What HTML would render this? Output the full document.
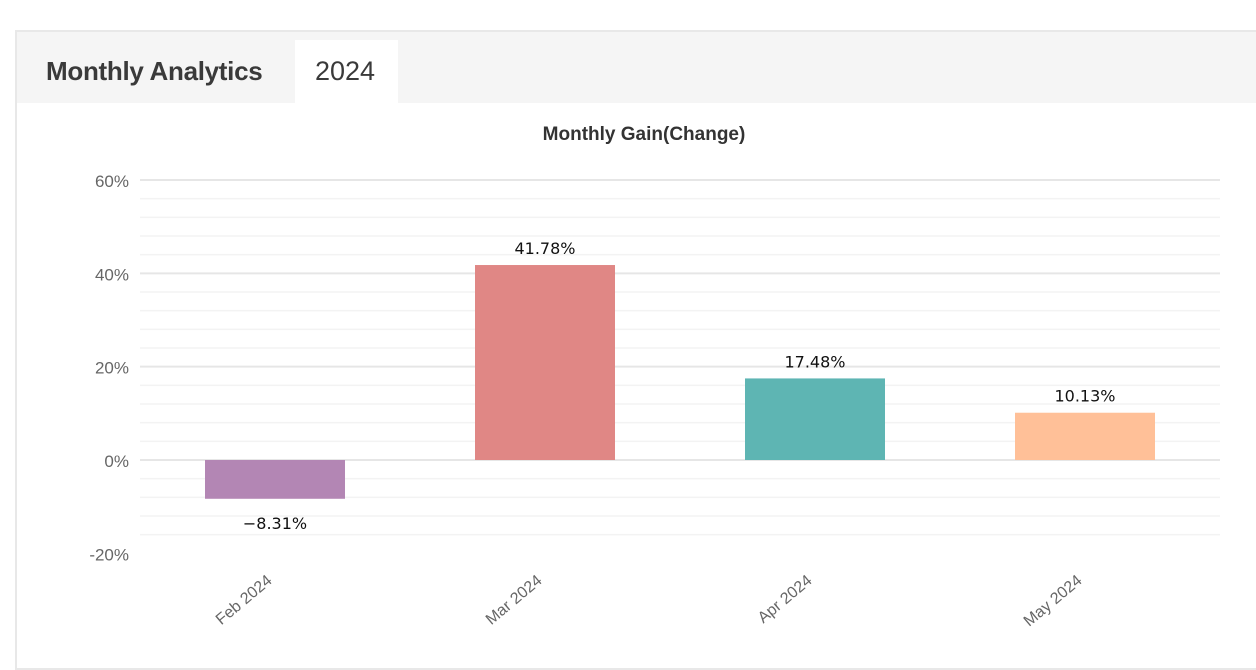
<!DOCTYPE html>
<html><head><meta charset="utf-8"><style>
body{margin:0;width:1256px;height:658px;background:#fff;font-family:"Liberation Sans",Arial,sans-serif;overflow:hidden;position:relative}
.panel{position:absolute;left:15px;top:30px;width:1250px;height:640px;border:2px solid #e8e8e8;box-sizing:border-box}
.hdr{position:absolute;left:17px;top:32px;width:1239px;height:71px;background:#f5f5f5}
.t1{position:absolute;left:46px;top:56px;font-size:26px;color:#3a3a3a;font-weight:bold;letter-spacing:-0.3px}
.tab{position:absolute;left:295px;top:40px;width:103px;height:63px;background:#fff}
.tab span{position:absolute;left:20px;top:16px;font-size:27px;color:#3a3a3a}
</style></head><body>
<div class="panel"></div>
<div class="hdr"></div>
<div class="t1">Monthly Analytics</div>
<div class="tab"><span>2024</span></div>
<svg id="chart" width="1256" height="658" style="position:absolute;left:0;top:0"></svg>
<script>
const categories=["Feb 2024","Mar 2024","Apr 2024","May 2024"];
const gains=[-8.31,41.78,17.48,10.13];
const labels=["-8.31%","41.78%","17.48%","10.13%"];
const colors=["#b386b4","#e08785","#5eb5b3","#ffc098"];
const yTicks=[60,40,20,0,-20];
const svg=document.getElementById('chart');
const NS='http://www.w3.org/2000/svg';
const x0=140,x1=1220,y=v=>460-(v*280/60);
const band=(x1-x0)/categories.length;
function mk(t,a){const e=document.createElementNS(NS,t);for(const k in a)e.setAttribute(k,a[k]);svg.appendChild(e);return e;}
const title=mk('text',{x:644,y:140,'text-anchor':'middle','font-size':19,'font-weight':'bold',fill:'#333'});


title.textContent='Monthly Gain(Change)';
for(let v=-16;v<=60;v+=4){
  const major=v%20===0;
  const l=mk('line',{x1:x0,x2:x1,y1:y(v),y2:y(v),stroke:major?'#e6e6e6':'#f3f3f3','stroke-width':major?2:1.5});
  
  
}
yTicks.forEach(v=>{
  const t=mk('text',{x:129,y:y(v)+7,'text-anchor':'end','font-size':17,fill:'#666'});
  
  
  t.textContent=v+'%';
});
categories.forEach((c,i)=>{
  const cx=x0+band*(i+0.5),w=140,v=gains[i];
  const top=Math.min(y(v),y(0)),h=Math.abs(y(v)-y(0));
  const r=mk('rect',{x:cx-w/2,y:top,width:w,height:h,fill:colors[i]});
  
  
  const ly=v>=0?y(v)-11:y(v)+30;
  const t=mk('text',{x:cx,y:ly,'text-anchor':'middle','font-size':16,fill:'#111','font-family':'DejaVu Sans, sans-serif'});
  
  
  t.textContent=labels[i].replace('-','\u2212');
  const xl=mk('text',{x:0,y:0,'text-anchor':'end','font-size':16,fill:'#666',transform:`translate(${cx-2},${582}) rotate(-40)`});
  
  
  xl.textContent=c;
});
</script>
</body></html>
